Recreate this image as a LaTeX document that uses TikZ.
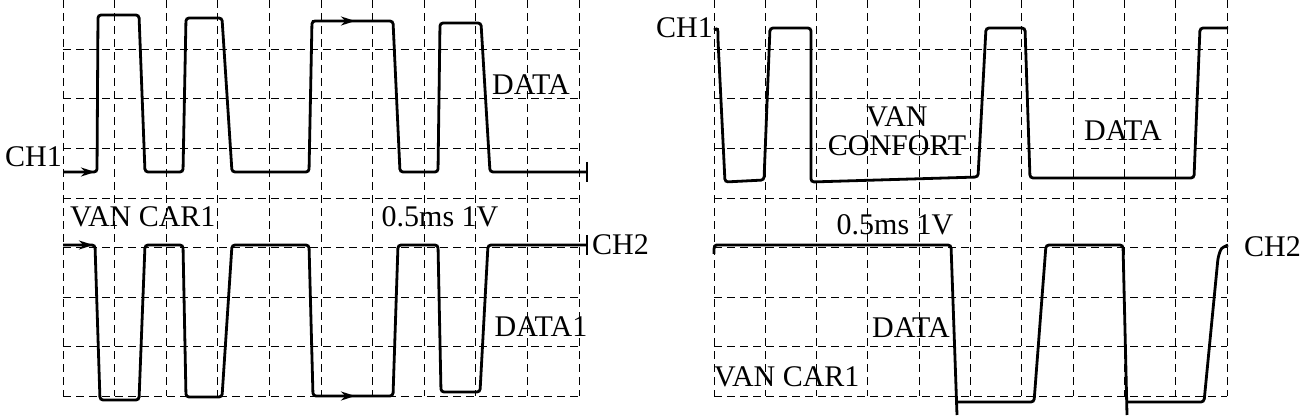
\documentclass[tikz,border=0pt]{standalone}
\usepackage{fontspec}
\setmainfont{Liberation Serif}
\usetikzlibrary{arrows.meta}
\newcommand{\drawScopeGrid}[2]{
	\foreach \i in {0,...,10}
		\draw[gridline] ({#1+\i*#2},0) -- ({#1+\i*#2},396);
	\foreach \j in {0,...,8}
		\draw[gridline] (#1,{\j*49.5}) -- ({#1+10*#2},{\j*49.5});
}
\tikzset{
	gridline/.style={line width=1pt, dash pattern=on 8pt off 5pt},
	wave/.style={line width=2.8pt, rounded corners=3pt},
	lbl/.style={font=\fontsize{30}{29}\selectfont, inner sep=0pt, align=center},
	midarrow/.style={-{Stealth[length=14pt,width=9pt]}, line width=2.8pt}
}
\begin{document}
\begin{tikzpicture}[x=1pt,y=-1pt]
	\useasboundingbox (0,0) rectangle (1304,417);
	% grids
	\drawScopeGrid{63}{51.6}
	\drawScopeGrid{714}{51.3}

	% left panel, channel 1
	\draw[wave] (63,172) -- (97,172) -- (98,15) -- (139,15) -- (145,172) -- (183,172)
		-- (186,18) -- (222,18) -- (232,172) -- (309,172) -- (312,21) -- (393,21)
		-- (400,172) -- (438,172) -- (440,23) -- (481,23) -- (490,172) -- (587,172);
	\draw[line width=2.2pt] (587,162) -- (587,182);
	\draw[midarrow] (63,172) -- (95,172);
	\draw[midarrow] (312,21) -- (355,21);

	% left panel, channel 2
	\draw[wave] (63,245) -- (95,245) -- (100,400) -- (139,400) -- (145,245) -- (183,245)
		-- (186,397) -- (222,397) -- (232,245) -- (309,245) -- (313,396) -- (393,396)
		-- (398,245) -- (438,245) -- (441,392) -- (480,392) -- (488,245) -- (587,245);
	\draw[line width=2.2pt] (587,235) -- (587,255);
	\draw[midarrow] (63,245) -- (93,245);
	\draw[midarrow] (313,396) -- (355,396);

	% right panel, channel 1
	\draw[wave] (714,30) .. controls (718,28) .. (718,40) -- (725,182) -- (764,180)
		-- (770,28) -- (811,28) -- (811,182) -- (978,177) -- (986,28) -- (1025,28)
		-- (1030,178) -- (1194,178) -- (1200,28) -- (1228,28);

	% right panel, channel 2
	\draw[wave] (714,254) .. controls (714,245) .. (722,245) -- (951,245) -- (957,415);
	\draw[wave] (957,402) -- (1034,402) -- (1046,245) -- (1123,245) -- (1127,415);
	\draw[wave] (1127,402) -- (1204,402) -- (1218,258) .. controls (1221,248) .. (1228,245);

	% labels
	\node[lbl, anchor=east] (ch1a) at (62,157) {CH1};
	\node[lbl] (dataa) at (531,85) {DATA};
	\node[lbl, anchor=west] (vancara) at (70,217) {VAN CAR1};
	\node[lbl] (timea) at (440,217) {0.5ms 1V};
	\node[lbl, anchor=west] (ch2a) at (592,245) {CH2};
	\node[lbl] (data1a) at (541,327) {DATA1};
	\node[lbl, anchor=east] (ch1b) at (713,28) {CH1};
	\node[lbl] (vanconf) at (897,131) {VAN\\CONFORT};
	\node[lbl] (datab) at (1123,131) {DATA};
	\node[lbl] (timeb) at (895,225) {0.5ms 1V};
	\node[lbl, anchor=west] (ch2b) at (1244,247) {CH2};
	\node[lbl] (datac) at (911,328) {DATA};
	\node[lbl, anchor=west] (vancarb) at (714,377) {VAN CAR1};
\end{tikzpicture}
\end{document}
